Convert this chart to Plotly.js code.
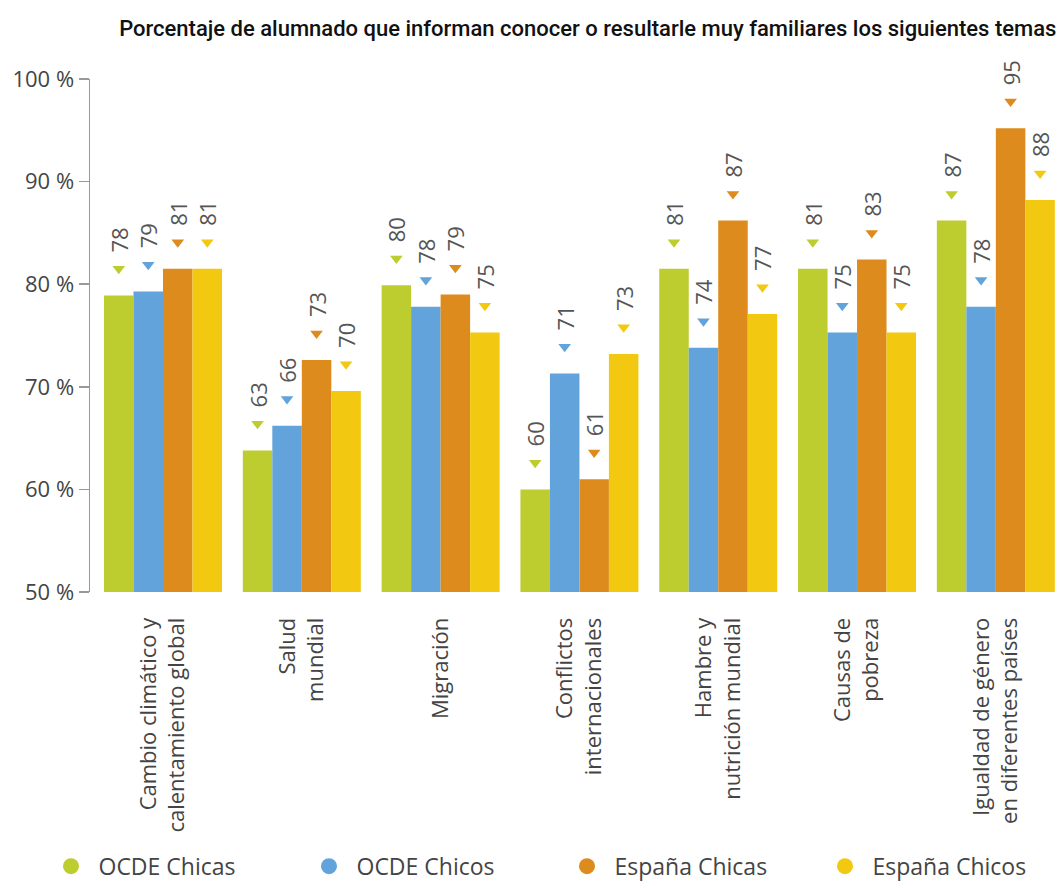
<!DOCTYPE html>
<html>
<head>
<meta charset="utf-8">
<script src="https://cdn.plot.ly/plotly-3.0.1.min.js"></script>
<style>html,body{margin:0;padding:0;background:#fff;}#chart{width:1059px;height:888px;}</style>
</head>
<body>
<div id="chart"></div>
<script>
const categories = ['Cambio climático y<br>calentamiento global', 'Salud<br>mundial', 'Migración', 'Conflictos<br>internacionales', 'Hambre y<br>nutrición mundial', 'Causas de<br>pobreza', 'Igualdad de género<br>en diferentes países'];
const seriesNames = ['OCDE Chicas', 'OCDE Chicos', 'España Chicas', 'España Chicos'];
const seriesColors = ['#BDCC2F', '#61A3DA', '#DC8B1C', '#F2C811'];
const ocdeChicas = [78.9, 63.8, 79.9, 60.0, 81.5, 81.5, 86.2];
const ocdeChicos = [79.3, 66.2, 77.8, 71.3, 73.8, 75.3, 77.8];
const espanaChicas = [81.5, 72.6, 79.0, 61.0, 86.2, 82.4, 95.2];
const espanaChicos = [81.5, 69.6, 75.3, 73.2, 77.1, 75.3, 88.2];
const labelsOcdeChicas = [78, 63, 80, 60, 81, 81, 87];
const labelsOcdeChicos = [79, 66, 78, 71, 74, 75, 78];
const labelsEspanaChicas = [81, 73, 79, 61, 87, 83, 95];
const labelsEspanaChicos = [81, 70, 75, 73, 77, 75, 88];
const yTickVals = [50, 60, 70, 80, 90, 100];
const yTickText = ['50 %', '60 %', '70 %', '80 %', '90 %', '100 %'];

const series = [ocdeChicas, ocdeChicos, espanaChicas, espanaChicos];
const labels = [labelsOcdeChicas, labelsOcdeChicos, labelsEspanaChicas, labelsEspanaChicos];
const barW = 0.2125;
const markerOffset = 2.6;
const pad = '\u00a0'.repeat(7);
const FONT = 'Open Sans, sans-serif';

const traces = [];
series.forEach((vals, j) => {
  const xs = categories.map((c, i) => i + (j - 1.5) * barW);
  traces.push({
    type: 'bar', x: xs, y: vals.map(v => v - 50), base: 50, width: barW,
    marker: {color: seriesColors[j], line: {width: 0}},
    text: labels[j].map(l => pad + l), textposition: 'outside', textangle: -90,
    textfont: {family: FONT, size: 22, color: '#555'}, constraintext: 'none', cliponaxis: false,
    showlegend: false, hoverinfo: 'skip'
  });
  traces.push({
    type: 'scatter', mode: 'markers', x: xs, y: vals.map(v => v + markerOffset),
    marker: {symbol: 'triangle-down', size: 11, color: seriesColors[j]},
    showlegend: false, hoverinfo: 'skip', cliponaxis: false
  });
});
seriesNames.forEach((n, j) => {
  traces.push({
    type: 'scatter', mode: 'markers', x: [null], y: [null], name: n,
    marker: {symbol: 'circle', size: 16, color: seriesColors[j]}
  });
});

const layout = {
  width: 1059, height: 888,
  margin: {l: 90, r: 0, t: 79, b: 296, autoexpand: false},
  paper_bgcolor: '#fff', plot_bgcolor: '#fff',
  barmode: 'overlay',
  font: {family: FONT, color: '#444'},
  title: {text: 'Porcentaje de alumnado que informan conocer o resultarle muy familiares los siguientes temas',
    font: {family: 'Roboto, sans-serif', size: 22, color: '#111', weight: 500},
    x: 0.555, xref: 'container', xanchor: 'center', y: 0.968, yref: 'container', yanchor: 'middle'},
  xaxis: {range: [-0.526, 6.455], tickvals: categories.map((c, i) => i), ticktext: categories,
    tickangle: -90, ticks: 'outside', ticklen: 16, tickcolor: 'rgba(0,0,0,0)',
    showline: false, showgrid: false, zeroline: false,
    tickfont: {family: FONT, size: 22, color: '#444'}},
  yaxis: {range: [50, 100], tickvals: yTickVals, ticktext: yTickText, showline: true, linecolor: '#999', linewidth: 1.5,
    ticks: 'outside', ticklen: 10, tickcolor: '#999', tickwidth: 1.5, showgrid: false, zeroline: false,
    tickfont: {family: FONT, size: 22, color: '#444'}},
  showlegend: true,
  legend: {orientation: 'h', x: -0.048, xanchor: 'left', y: -0.5765, yref: 'paper', yanchor: 'bottom',
    entrywidth: 198, entrywidthmode: 'pixels', itemwidth: 45, font: {family: FONT, size: 23, color: '#444'},
    bgcolor: 'rgba(0,0,0,0)'}
};
Plotly.newPlot('chart', traces, layout, {displayModeBar: false, staticPlot: true});
</script>
</body>
</html>
